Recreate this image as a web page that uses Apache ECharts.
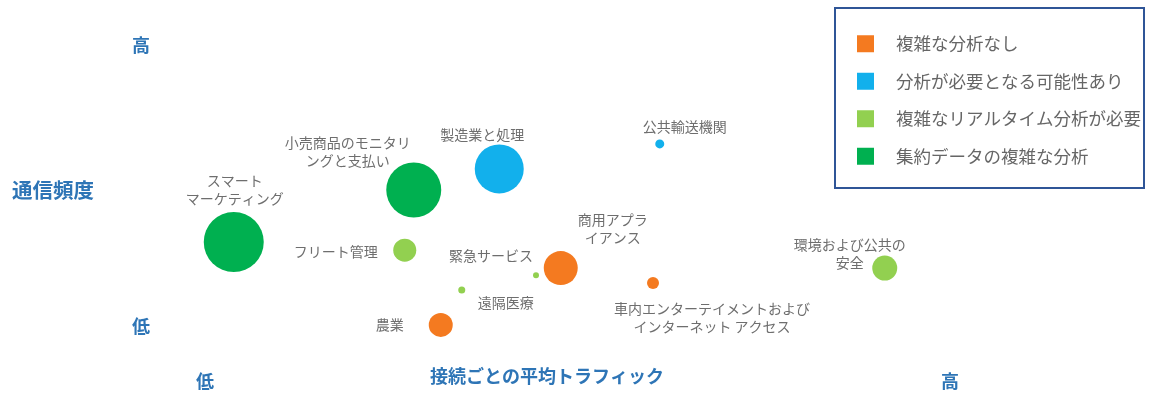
<!DOCTYPE html>
<html>
<head>
<meta charset="utf-8">
<script src="https://cdn.jsdelivr.net/npm/echarts@6/dist/echarts.min.js"></script>
<style>
  html, body { margin: 0; padding: 0; background: #fff; }
  #chart { width: 1155px; height: 393px; }
</style>
</head>
<body>
<div id="chart"></div>
<script>
// Analysis groups (legend entries)
const GROUPS = ['複雑な分析なし', '分析が必要となる可能性あり', '複雑なリアルタイム分析が必要', '集約データの複雑な分析'];
const GROUP_COLORS = ['#F47A20', '#12B0EC', '#92D050', '#00B050'];

// Use cases
const USE_CASES = [
  'スマート\nマーケティング',
  '小売商品のモニタリ\nングと支払い',
  '製造業と処理',
  '公共輸送機関',
  'フリート管理',
  '緊急サービス',
  '遠隔医療',
  '環境および公共の\n安全',
  '農業',
  '商用アプラ\nイアンス',
  '車内エンターテイメントおよび\nインターネット アクセス'
];
// Average traffic per connection (0 = low, 100 = high)
const TRAFFIC   = [4.5, 28.5, 39.9, 61.3, 27.3, 44.8, 34.9, 91.3, 32.1, 48.1, 60.4];
// Communication frequency (0 = low, 100 = high)
const FREQUENCY = [29.9, 48.4, 55.9, 64.8, 27.0, 18.1, 12.8, 20.6, 0.4, 20.6, 15.3];
// Relative bubble size
const BUBBLE_SIZE = [60, 55, 49, 9, 23, 6, 7, 25, 24, 34, 12];
// Group index of each use case
const GROUP_OF = [3, 3, 1, 1, 2, 2, 2, 2, 0, 0, 0];

// Axis end labels
const AXIS_TICKS = ['低', '高'];

// Label placement around each bubble (pixel offsets from the bubble centre)
const LABEL_OFFSET = [
  [1, -52], [-66, -38], [-17, -34], [25, -17], [-69, 2], [-45, -19],
  [44, 13], [-35, -14], [-51, 0], [52, -39], [59, 35]
];

const AXIS_BLUE = '#2E75B6';
const LABEL_GREY = '#6E6E6E';
const FONT = '"Noto Sans CJK JP", "Noto Sans", sans-serif';

const series = GROUPS.map((g, gi) => ({
  name: g,
  type: 'scatter',
  itemStyle: { color: GROUP_COLORS[gi], opacity: 1 },
  symbolSize: v => v[2],
  label: {
    show: true,
    position: 'inside',
    formatter: p => p.data.name,
    color: LABEL_GREY,
    fontFamily: FONT,
    fontSize: 14,
    lineHeight: 18,
    align: 'center',
    verticalAlign: 'middle'
  },
  emphasis: { disabled: true },
  data: USE_CASES.map((name, i) => ({ name, i }))
    .filter(d => GROUP_OF[d.i] === gi)
    .map(d => ({
      name: d.name,
      value: [TRAFFIC[d.i], FREQUENCY[d.i], BUBBLE_SIZE[d.i]],
      label: { offset: LABEL_OFFSET[d.i] }
    }))
}));

const chart = echarts.init(document.getElementById('chart'), null, { renderer: 'canvas' });

const axisCommon = {
  type: 'value',
  min: 0,
  max: 100,
  interval: 100,
  axisLine: { show: false },
  axisTick: { show: false },
  splitLine: { show: false },
};

chart.setOption({
  animation: false,
  backgroundColor: '#fff',
  grid: { left: 200, right: 205, top: 45, bottom: 67 },
  xAxis: Object.assign({}, axisCommon, {
    axisLabel: {
      formatter: v => (v === 0 ? '{lo|' + AXIS_TICKS[0] + '}' : AXIS_TICKS[1]),
      margin: 46,
      color: AXIS_BLUE,
      fontFamily: FONT,
      fontWeight: 'bold',
      fontSize: 18,
      rich: {
        lo: { color: AXIS_BLUE, fontFamily: FONT, fontWeight: 'bold', fontSize: 18, padding: [0, 0, 0, 10] }
      }
    }
  }),
  yAxis: Object.assign({}, axisCommon, {
    axisLabel: {
      formatter: v => (v === 0 ? AXIS_TICKS[0] : AXIS_TICKS[1]),
      margin: 50,
      color: AXIS_BLUE,
      fontFamily: FONT,
      fontWeight: 'bold',
      fontSize: 18
    }
  }),
  legend: {
    orient: 'vertical',
    left: 857,
    top: 35,
    padding: 0,
    itemWidth: 17,
    itemHeight: 17,
    itemGap: 20,
    icon: 'rect',
    selectedMode: false,
    data: GROUPS,
    textStyle: {
      color: '#666',
      fontFamily: FONT,
      fontSize: 17.5,
      lineHeight: 17,
      padding: [0, 0, 0, 17]
    }
  },
  graphic: [
    {
      type: 'rect',
      shape: { x: 835, y: 8, width: 309, height: 180 },
      style: { fill: 'none', stroke: '#2F5597', lineWidth: 2 },
      z: 0
    },
    {
      type: 'text',
      left: 12,
      top: 180,
      style: {
        text: '通信頻度',
        fill: AXIS_BLUE,
        font: 'bold 20.5px ' + FONT
      }
    },
    {
      type: 'text',
      left: 430,
      top: 367,
      style: {
        text: '接続ごとの平均トラフィック',
        fill: AXIS_BLUE,
        font: 'bold 18px ' + FONT
      }
    }
  ],
  series
});
</script>
</body>
</html>
